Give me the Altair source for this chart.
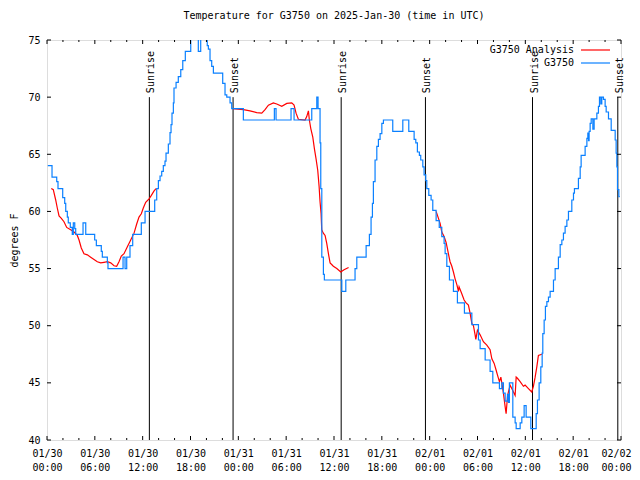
import altair as alt
import pandas as pd

# ---- data (hours since 2025-01-30 00:00 UTC, degrees F) ----
blue_h = [0.1, 0.63, 1.22, 1.38, 1.97, 2.22, 2.35, 2.55, 2.67, 2.92, 3.17, 3.30, 3.48, 3.60,
          4.52, 4.86, 5.98, 6.19, 6.81, 6.94, 7.57, 7.65, 9.54, 9.79, 10.0, 10.41, 10.75,
          11.83, 12.30, 13.51, 13.76, 13.97, 14.18, 14.39, 14.59, 14.8, 14.93, 15.22, 15.43,
          15.56, 15.68, 15.85, 15.93, 16.19, 16.47, 16.78, 17.03, 17.35, 18.03, 18.98, 19.28,
          20.1, 20.24, 20.45, 20.66, 20.87, 22.04, 22.33, 22.55, 22.96, 23.17, 24.63, 28.52,
          28.73, 30.61, 30.99, 33.21, 33.84, 34.0, 34.25, 34.34, 34.47, 34.67, 34.79, 36.98,
          37.48, 38.64, 38.86, 40.03, 40.44, 40.65, 40.82, 40.94, 41.15, 41.37, 41.57, 41.78,
          42.0, 42.2, 43.37, 44.63, 45.38, 46.05, 46.26, 46.46, 46.71, 46.88, 47.14, 47.3,
          47.51, 47.64, 47.89, 48.18, 48.39, 48.81, 49.2, 49.52, 49.81, 49.94, 50.15, 50.48,
          50.98, 51.48, 52.36, 53.29, 54.12, 54.33, 54.96, 55.58, 55.92, 56.75, 57.05, 57.25,
          57.47, 57.76, 57.88, 58.0, 58.43, 58.72, 58.85, 59.35, 59.56, 59.85, 60.1, 60.69,
          61.36, 61.52, 61.73, 61.94, 62.11, 62.19, 62.36, 62.52, 62.7, 62.9, 63.11, 63.53,
          63.74, 64.15, 64.37, 64.58, 64.78, 64.99, 65.21, 65.41, 65.83, 66.04, 66.16, 66.66,
          66.88, 67.0, 67.5, 67.72, 67.84, 67.92, 68.0, 68.13, 68.26, 68.47, 68.63, 68.97,
          69.17, 69.3, 69.47, 69.59, 69.8, 70.01, 70.14, 70.43, 70.77, 71.27, 71.39, 71.48,
          71.56, 71.73, 71.85]
blue_t = [64, 63, 62.6, 62, 61.2, 60.7, 60, 59.5, 59, 58.6, 58, 59, 58.5, 58,
          59, 58, 57.5, 57, 56.5, 56, 55.5, 55, 56, 55, 56, 57, 58,
          59, 60, 61, 62, 62.7, 63.1, 63.5, 64, 64.4, 65.1, 65.9, 66.9,
          67.6, 68.6, 69.5, 70.8, 71.3, 71.8, 72.4, 73.2, 74, 76, 74, 76,
          74.5, 74.2, 73.2, 72.7, 72.1, 71.2, 70.2, 70, 69.5, 69, 68, 69,
          68, 69, 68, 69, 70, 69, 66, 62, 56, 54.5, 54, 53,
          54, 55, 56, 57, 58, 59.5, 60.7, 62.6, 64.5, 65.7, 66.3, 66.8,
          67.7, 68, 67, 68, 67, 66.3, 66, 65.2, 64.9, 64.5, 63.9, 63.2,
          62.7, 62, 61.4, 61, 60.1, 59.2, 58.6, 57.8, 57.2, 56.3, 55.2, 54,
          53, 52, 51.1, 50.1, 48.75, 48, 47, 46, 45, 44.5, 45, 44.1,
          43.4, 44, 43.3, 45, 42, 41.5, 41, 41.5, 42, 43, 42, 41,
          42.3, 43.5, 45, 46.4, 47.6, 49.3, 50.5, 51.7, 52.1, 52.5, 53, 54,
          55, 56, 57.1, 57.5, 58.1, 58.7, 59.25, 60, 61, 61.6, 62, 62.9,
          63.9, 64.9, 65.7, 66.4, 66.85, 66.2, 67, 67.7, 68.1, 67.2, 68.1, 68.6,
          69.2, 70, 69.4, 70, 69.8, 69.2, 68.7, 68.1, 67.1, 66.25, 65.1, 63.9,
          61.9, 61.3, 61.3]

red_h = [0.54, 0.79, 1.09, 1.29, 1.51, 1.8, 2.13, 2.47, 2.97, 3.39, 3.8, 4.02, 4.3, 4.64,
         5.06, 5.48, 5.9, 6.31, 6.73, 7.15, 7.57, 7.99, 8.41, 8.74, 9.03, 9.32, 9.66, 10.08,
         10.5, 10.92, 11.25, 11.54, 11.83, 12.08, 12.38, 12.8, 13.09, 13.43, 13.68,
         23.3, 24.63, 25.47, 26.31, 26.94, 27.35, 27.77, 28.39, 28.82, 29.45, 30.08, 30.7,
         30.99, 31.24, 31.53, 32.37, 32.58, 32.79, 32.91, 33.09, 33.34, 33.54, 33.75, 33.96,
         34.13, 34.25, 34.38, 34.46, 34.66, 34.88, 35.09, 35.3, 35.51, 35.92, 36.35, 36.85,
         37.26, 37.83,
         48.81, 49.31, 49.52, 49.81, 50.06, 50.35, 50.56, 50.78, 50.98, 51.19, 51.41, 51.61,
         51.69, 52.03, 52.32, 52.57, 52.86, 53.07, 53.29, 53.49, 53.7, 53.79, 53.99, 54.33,
         54.74, 55.17, 55.58, 55.8, 56.09, 56.34, 56.5, 56.75, 56.93, 57.05, 57.25, 57.47,
         57.59, 57.76, 57.88, 58.09, 58.3, 58.51, 58.72, 58.85, 59.01, 59.35, 59.76, 59.97,
         60.39, 60.81, 61.01, 61.23, 61.44, 61.64, 62.07]
red_t = [62, 61.9, 61, 60.3, 59.6, 59.4, 59.1, 58.6, 58.4, 58.2, 57.9, 57.5, 56.8, 56.3,
         56.2, 56.0, 55.8, 55.6, 55.5, 55.55, 55.6, 55.5, 55.25, 55.2, 55.6, 56.1, 56.3, 56.9,
         57.5, 58.1, 58.9, 59.5, 59.8, 60.3, 60.8, 61.1, 61.4, 61.8, 62.0,
         69.0, 68.9, 68.8, 68.65, 68.6, 68.9, 69.3, 69.5, 69.4, 69.2, 69.45, 69.5,
         69.3, 68.6, 68.06, 68.0, 68.3, 68.8, 68.0, 67.25, 66.5, 65.5, 64.6, 63.6,
         62.2, 60.85, 59.8, 58.4, 58.1, 57.9, 57.2, 56.3, 55.5, 55.2, 55.0, 54.7,
         54.9, 55.1,
         60, 58.95, 58.2, 57.8, 57.3, 56.3, 55.6, 55.2, 54.7, 54.1, 53.6, 53.0,
         53.4, 52.8, 52.25, 52.0, 51.8, 51.1, 50.2, 50.0, 49.2, 48.8, 49.6, 49.2,
         48.6, 48.3, 47.9, 47.1, 46.7, 46.1, 45.7, 45.1, 45.5, 45.0, 44.1, 42.9,
         42.3, 43.8, 44.2, 44.8, 44.5, 44.2, 43.9, 45.5, 45.4, 45.1, 44.7, 44.8,
         44.5, 44.2, 44.7, 45.5, 46.4, 47.4, 47.5]
red_seg = [1] * 39 + [2] * 38 + [3] * 55

sun_h = [12.84, 23.34, 36.9, 47.47, 60.9, 71.6]
sun_lbl = ["Sunrise", "Sunset", "Sunrise", "Sunset", "Sunrise", "Sunset"]

tick_hours = list(range(0, 73, 6))
tick_dates = ["01/30"] * 4 + ["01/31"] * 4 + ["02/01"] * 4 + ["02/02"]
tick_times = ["00:00", "06:00", "12:00", "18:00"] * 3 + ["00:00"]
minor_hours = [h for h in range(0, 73, 2) if h % 6 != 0]
y_ticks = [40, 45, 50, 55, 60, 65, 70, 75]
legend_names = ["G3750 Analysis", "G3750"]
legend_colors = ["#ff0000", "#0a80ff"]

TITLE = "Temperature for G3750 on 2025-Jan-30 (time in UTC)"
FONT = "DejaVu Sans Mono"
W, H = 574, 400

blue_df = pd.DataFrame({"h": blue_h, "t": blue_t})
red_df = pd.DataFrame({"h": red_h, "t": red_t, "seg": red_seg})
sun_df = pd.DataFrame({"h": sun_h, "lbl": sun_lbl})
major_df = pd.DataFrame({"h": tick_hours})
minor_df = pd.DataFrame({"h": minor_hours})
yt_df = pd.DataFrame({"t": y_ticks})

xs = alt.Scale(domain=[0, 72], nice=False, zero=False)
ys = alt.Scale(domain=[40, 75], nice=False, zero=False)

hours_js = "[" + ",".join(str(h) for h in tick_hours) + "]"
dates_js = "[" + ",".join("'%s'" % d for d in tick_dates) + "]"
times_js = "[" + ",".join("'%s'" % t for t in tick_times) + "]"
label_expr = (f"[{dates_js}[indexof({hours_js}, datum.value)], "
              f"{times_js}[indexof({hours_js}, datum.value)]]")

x_axis = alt.Axis(values=tick_hours, labelExpr=label_expr, ticks=False, domain=False,
                  grid=False, labelFont=FONT, labelFontSize=10, labelColor="black",
                  labelPadding=8, labelBaseline="top", labelLineHeight=14,
                  labelOffset={"condition": {"test": f"datum.value == {tick_hours[-1]}",
                                             "value": -5}, "value": 0},
                  labelFlush=False, labelOverlap=False, labelBound=False, title=None)
y_axis = alt.Axis(values=y_ticks, ticks=False, domain=False, grid=False, labelFont=FONT,
                  labelFontSize=10, labelColor="black", labelPadding=7, labelFlush=False,
                  labelOverlap=False, title="degrees F", titleFont=FONT, titleFontSize=10,
                  titleFontWeight="normal", titleColor="black", titleX=-30, titleY=200,
                  titleAngle=270, titleAlign="center", titleBaseline="alphabetic")

X = alt.X("h:Q", scale=xs, axis=x_axis)
Yf = alt.Y("t:Q", scale=ys, axis=y_axis)
Y70 = alt.Y(datum=70, type="quantitative", scale=ys, axis=y_axis)

sun_rules = alt.Chart(sun_df).mark_rule(color="black", strokeWidth=1).encode(
    x=X, y=Y70, y2=alt.Y2(datum=40),
)
sun_text = alt.Chart(sun_df).mark_text(
    angle=270, align="left", baseline="alphabetic", font=FONT, fontSize=10,
    color="black", xOffset=5, yOffset=-4,
).encode(x=X, y=Y70, text="lbl:N")

red_line = alt.Chart(red_df).mark_line(color=legend_colors[0], strokeWidth=1.2, clip=True).encode(
    x=X, y=Yf, detail="seg:N", order="h:Q")
blue_line = alt.Chart(blue_df).mark_line(
    color=legend_colors[1], strokeWidth=1.2, interpolate="step-after", clip=True
).encode(x=X, y=Yf, order="h:Q")

bt_major = alt.Chart(major_df).mark_rule(color="black").encode(
    x=X, y=alt.value(H), y2=alt.value(H - 4))
tt_major = alt.Chart(major_df).mark_rule(color="black").encode(
    x=X, y=alt.value(0), y2=alt.value(4))
bt_minor = alt.Chart(minor_df).mark_rule(color="black").encode(
    x=X, y=alt.value(H), y2=alt.value(H - 2))
tt_minor = alt.Chart(minor_df).mark_rule(color="black").encode(
    x=X, y=alt.value(0), y2=alt.value(2))
yl = alt.Chart(yt_df).mark_rule(color="black").encode(
    y=Yf, x=alt.value(0), x2=alt.value(4))
yr = alt.Chart(yt_df).mark_rule(color="black").encode(
    y=Yf, x=alt.value(W - 4), x2=alt.value(W))

leg = []
for i, (name, col) in enumerate(zip(legend_names, legend_colors)):
    ly = 10 + 13 * i
    leg.append(alt.Chart(pd.DataFrame({"n": [name]})).mark_text(
        align="right", baseline="middle", font=FONT, fontSize=10, color="black"
    ).encode(text="n:N", x=alt.value(527), y=alt.value(ly)))
    leg.append(alt.Chart(pd.DataFrame({"n": [name]})).mark_rule(
        color=col, strokeWidth=1.2).encode(x=alt.value(534), x2=alt.value(563), y=alt.value(ly)))

chart = alt.layer(
    sun_rules, sun_text, red_line, blue_line,
    bt_major, tt_major, bt_minor, tt_minor, yl, yr, *leg,
).properties(
    width=W, height=H,
    title=alt.TitleParams(TITLE, font=FONT, fontSize=10, fontWeight="normal",
                          color="black", anchor="middle", offset=14),
    autosize=alt.AutoSizeParams(type="none"),
    padding={"left": 39, "top": 32, "right": 11, "bottom": 32},
).configure_view(
    stroke="black", strokeWidth=1
).configure(background="white")

chart.save("out.html", embed_options={"renderer": "svg", "actions": False})
